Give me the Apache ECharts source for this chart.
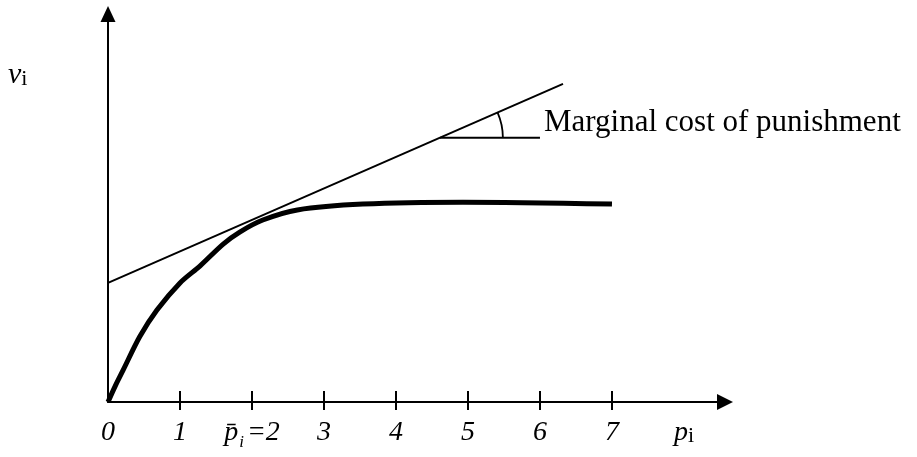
<!DOCTYPE html>
<html>
<head>
<meta charset="utf-8">
<script src="https://cdn.jsdelivr.net/npm/echarts@6/dist/echarts.min.js"></script>
<style>
  html, body { margin: 0; padding: 0; background: #fff; }
  #chart { width: 917px; height: 457px; }
</style>
</head>
<body>
<div id="chart"></div>
<script>
// p_i on x, v_i on y (y has no scale, units are arbitrary)
const tickValues = [1, 2, 3, 4, 5, 6, 7]
const labelValues = [0, 1, 2, 3, 4, 5, 6, 7, 8]
const curveX = [0, 0.1, 0.21, 0.44, 0.68, 1.0, 1.28, 1.6, 1.83, 2.15, 2.63, 3.54, 4.93, 7.0]
const curveY = [0, 0.41, 0.82, 1.68, 2.37, 3.07, 3.51, 4.07, 4.38, 4.69, 4.95, 5.10, 5.15, 5.10]
const tangentX = [0, 6.32]
const tangentY = [3.07, 8.2]
const angleX = [4.61, 6.0]
const angleY = [6.81, 6.81]
const annotation = 'Marginal cost of punishment'

const serif = '"Liberation Serif", "Times New Roman", serif'
const pairs = (xs, ys) => xs.map((x, i) => [x, ys[i]])

function xLabel(v) {
  if (v === 2) return '{p|p\u0304}{sub|i}{n|=2}'
  if (v === 8) return '{p|p}{s|i}'
  return '{n|' + v + '}'
}

const chart = echarts.init(document.getElementById('chart'))

chart.setOption({
  animation: false,
  grid: { left: 108, right: 192, top: 14, bottom: 55 },
  xAxis: [
    {
      type: 'value', min: 0, max: 8.57, interval: 1, position: 'bottom',
      axisLine: {
        onZero: false,
        lineStyle: { color: '#000', width: 2 },
        symbol: ['none', 'triangle'],
        symbolSize: [16, 16],
      },
      axisTick: { customValues: tickValues, length: 8, lineStyle: { color: '#000', width: 2 } },
      axisLabel: {
        customValues: labelValues,
        margin: 17,
        formatter: xLabel,
        color: '#000',
        rich: {
          n: { fontFamily: serif, fontStyle: 'italic', fontSize: 28, color: '#000' },
          p: { fontFamily: serif, fontStyle: 'italic', fontSize: 28, color: '#000' },
          sub: { fontFamily: serif, fontStyle: 'italic', fontSize: 17, color: '#000', verticalAlign: 'bottom', padding: [0, 3, -4, 1] },
          s: { fontFamily: serif, fontSize: 22, color: '#000', verticalAlign: 'bottom' },
        },
      },
      splitLine: { show: false },
    },
    {
      // second axis only draws the upper half of the ticks
      type: 'value', min: 0, max: 8.57, interval: 1, position: 'bottom',
      axisLine: { show: false },
      axisTick: { customValues: tickValues, inside: true, length: 11, lineStyle: { color: '#000', width: 2 } },
      axisLabel: { show: false },
      splitLine: { show: false },
    },
  ],
  yAxis: {
    type: 'value', min: 0, max: 10,
    axisLine: {
      show: true,
      lineStyle: { color: '#000', width: 2 },
      symbol: ['none', 'triangle'],
      symbolSize: [15, 16],
    },
    axisTick: { show: false },
    axisLabel: { show: false },
    splitLine: { show: false },
  },
  graphic: [
    {
      type: 'text', left: 8, top: 60,
      style: {
        text: '{v|v}{s|i}',
        rich: {
          v: { fontFamily: serif, fontStyle: 'italic', fontSize: 30, color: '#000', verticalAlign: 'bottom' },
          s: { fontFamily: serif, fontSize: 22, color: '#000', verticalAlign: 'bottom' },
        },
      },
    },
    {
      type: 'text', left: 544, top: 107,
      style: { text: annotation, fontFamily: serif, fontSize: 31, fill: '#000' },
    },
  ],
  series: [
    {
      type: 'line',
      data: pairs(tangentX, tangentY),
      symbol: 'none',
      lineStyle: { color: '#000', width: 2 },
      z: 2,
    },
    {
      type: 'line',
      data: pairs(curveX, curveY),
      smooth: 0.3,
      symbol: 'none',
      lineStyle: { color: '#000', width: 5 },
      z: 3,
    },
    {
      type: 'line',
      data: pairs(angleX, angleY),
      symbol: 'none',
      lineStyle: { color: '#000', width: 2 },
      z: 2,
    },
    {
      // angle arc between the horizontal and the tangent line
      type: 'custom',
      data: [[angleX[0], angleY[0]]],
      renderItem(params, api) {
        const c = api.coord([api.value(0), api.value(1)])
        const a = api.coord([tangentX[0], tangentY[0]])
        const b = api.coord([tangentX[1], tangentY[1]])
        const ang = Math.atan2(b[1] - a[1], b[0] - a[0])
        return {
          type: 'arc',
          shape: { cx: c[0], cy: c[1], r: 63, startAngle: ang, endAngle: 0, clockwise: true },
          style: { stroke: '#000', fill: null, lineWidth: 1.8 },
        }
      },
      z: 2,
    },
  ],
})

window.addEventListener('resize', () => chart.resize())
</script>
</body>
</html>
